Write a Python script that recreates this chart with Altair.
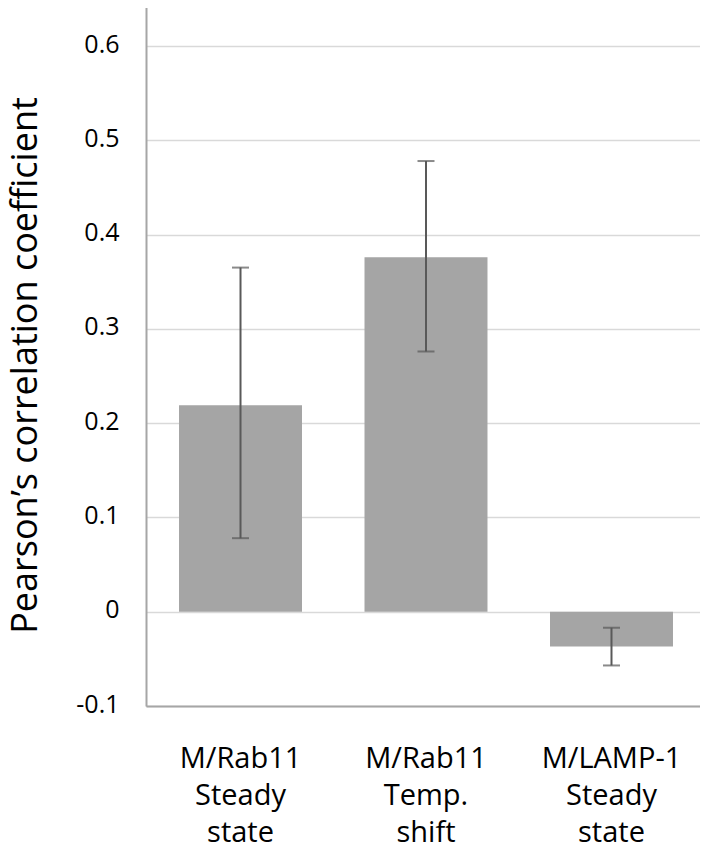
import altair as alt
import pandas as pd

categories = ["M/Rab11 Steady state", "M/Rab11 Temp. shift", "M/LAMP-1 Steady state"]
means = [0.219, 0.376, -0.037]
err_low = [0.078, 0.276, -0.057]
err_high = [0.365, 0.478, -0.017]
y_ticks = [-0.1, 0.0, 0.1, 0.2, 0.3, 0.4, 0.5, 0.6]
y_title = "Pearson\u2019s correlation coefficient"

df = pd.DataFrame({"cat": categories, "mean": means, "low": err_low, "high": err_high})

FONT = "Open Sans"

x_enc = alt.X(
    "cat:N",
    sort=None,
    scale=alt.Scale(paddingInner=0.337, paddingOuter=0.178, range=[0, 560]),
    axis=alt.Axis(
        title=None,
        labelAngle=0,
        labelExpr="split(datum.label, ' ')",
        labelFont=FONT,
        labelFontSize=29,
        labelLineHeight=37,
        labelColor="#000000",
        labelPadding=38,
        labelBaseline="top",
        ticks=False,
        domain=True,
        domainColor="#a6a6a6",
        domainWidth=2,
        grid=False,
    ),
)

y_scale = alt.Scale(domain=[-0.1, 0.6488], nice=False, zero=False)
y_axis = alt.Axis(
    values=y_ticks,
    labelExpr="abs(datum.value) < 1e-9 ? '0' : (datum.value < 0 ? '-' : '') + format(abs(datum.value), '.1f')",
    labelFont=FONT,
    labelFontSize=25,
    labelColor="#000000",
    labelPadding=27,
    labelBaseline="alphabetic",
    labelOffset=6,
    ticks=False,
    domain=True,
    domainColor="#a6a6a6",
    domainWidth=2,
    grid=True,
    gridColor="#d9d9d9",
    gridWidth=1.5,
    title=y_title,
    titleFont=FONT,
    titleFontSize=36,
    titleFontWeight="normal",
    titleColor="#000000",
    titleBaseline="alphabetic",
    titleAlign="center",
    titleX=-110,
    titleY=365,
)

bars = alt.Chart(df).mark_bar(color="#a5a5a5").encode(
    x=x_enc,
    y=alt.Y("mean:Q", scale=y_scale, axis=y_axis, title=y_title),
)

rules = alt.Chart(df).mark_rule(color="#595959", strokeWidth=2).encode(
    x=x_enc,
    y=alt.Y("low:Q", scale=y_scale, axis=y_axis, title=y_title),
    y2="high:Q",
)

caps_low = alt.Chart(df).mark_tick(color="#595959", thickness=2, size=17, orient="horizontal").encode(
    x=x_enc,
    y=alt.Y("low:Q", scale=y_scale, axis=y_axis, title=y_title),
)
caps_high = alt.Chart(df).mark_tick(color="#595959", thickness=2, size=17, orient="horizontal").encode(
    x=x_enc,
    y=alt.Y("high:Q", scale=y_scale, axis=y_axis, title=y_title),
)

chart = alt.layer(bars, rules, caps_low, caps_high).properties(
    width=554,
    height=706,
    autosize=alt.AutoSizeParams(type="none"),
    padding={"left": 138, "top": -8, "right": 0, "bottom": 145},
).configure_view(stroke=None).configure(background="white")

chart.save("out.html", embed_options={"renderer": "svg", "actions": False})
